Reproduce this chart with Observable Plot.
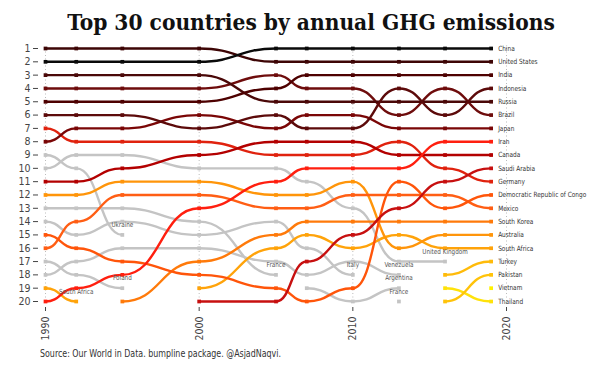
<!DOCTYPE html>
<html><head><meta charset="utf-8">
<script src="https://cdn.jsdelivr.net/npm/d3@7"></script>
<script src="https://cdn.jsdelivr.net/npm/@observablehq/plot@0.6"></script>
<style>
body{margin:0;background:#fff;width:600px;height:375px;overflow:hidden}
#title{font-family:"DejaVu Serif Condensed","Liberation Serif",serif;font-weight:bold;font-size:22.5px;text-align:center;height:40px;line-height:44px;color:#111;padding-left:22px;white-space:nowrap}
#cap{font-family:"DejaVu Sans Condensed",sans-serif;font-size:11px;color:#333;margin-left:40px;margin-top:2px;transform:scaleX(0.8);transform-origin:0 0;white-space:nowrap}
</style></head><body>
<div id="title">Top 30 countries by annual GHG emissions</div>
<div id="chart"></div>
<div id="cap">Source: Our World in Data. bumpline package. @AsjadNaqvi.</div>
<script>
const years = [1990,1992,1995,2000,2005,2007,2010,2013,2016,2019];
const r1990 = ["United States","China","Russia","Brazil","India","Indonesia","Germany","Japan","Ukraine","United Kingdom","Canada","Australia","France","Italy","Democratic Republic of Congo","Mexico","Poland","Venezuela","South Africa","Iran"];
const r1992 = ["United States","China","Russia","Brazil","India","Indonesia","Japan","Germany","United Kingdom","Ukraine","Canada","Australia","France","Mexico","Italy","Democratic Republic of Congo","Venezuela","Poland","Iran","South Africa"];
const r1995 = ["United States","China","Russia","Brazil","India","Indonesia","Japan","Germany","United Kingdom","Canada","Australia","Mexico","France","Italy","Ukraine","Venezuela","Democratic Republic of Congo","Iran","Poland","South Korea"];
const r2000 = ["United States","China","Russia","Brazil","India","Japan","Indonesia","Germany","Canada","United Kingdom","Australia","Mexico","Iran","France","Italy","Venezuela","South Korea","Democratic Republic of Congo","South Africa","Saudi Arabia"];
const r2005 = ["China","United States","Brazil","India","Russia","Indonesia","Japan","Canada","Germany","United Kingdom","Iran","Australia","Mexico","Italy","South Korea","South Africa","Venezuela","France","Democratic Republic of Congo","Saudi Arabia"];
const r2007 = ["China","United States","India","Brazil","Russia","Japan","Indonesia","Canada","Germany","Iran","United Kingdom","Australia","Mexico","South Korea","South Africa","Italy","Saudi Arabia","Venezuela","Argentina","Democratic Republic of Congo"];
const r2010 = ["China","United States","India","Brazil","Russia","Japan","Indonesia","Canada","Germany","Iran","Australia","Mexico","United Kingdom","South Korea","Saudi Arabia","South Africa","Venezuela","Italy","Democratic Republic of Congo","Argentina"];
const r2013 = ["China","United States","India","Indonesia","Russia","Brazil","Japan","Germany","Canada","Iran","Democratic Republic of Congo","Mexico","Saudi Arabia","South Korea","South Africa","Australia","United Kingdom","Venezuela","Argentina","France"];
const r2016 = ["China","United States","India","Brazil","Russia","Indonesia","Japan","Iran","Canada","Germany","Saudi Arabia","Mexico","Democratic Republic of Congo","South Korea","Australia","South Africa","United Kingdom","Turkey","Thailand","Pakistan"];
const r2019 = ["China","United States","India","Indonesia","Russia","Brazil","Japan","Iran","Canada","Saudi Arabia","Germany","Democratic Republic of Congo","Mexico","South Korea","Australia","South Africa","Turkey","Pakistan","Vietnam","Thailand"];
const rankings = [r1990,r1992,r1995,r2000,r2005,r2007,r2010,r2013,r2016,r2019];
const palette = ["#0a0a0a","#3d0505","#4d0000","#5c0a0a","#4a0808","#6e0c0c","#7a0606","#ff1f0f","#b30000","#c71010","#e0220e","#ff550a","#ff5e14","#ff7a0a","#ff950a","#ffa30a","#ffbb0a","#ffc30a","#fff200","#ffe20a"];
const greyColor = "#c4c4c4";
const font = "'DejaVu Sans Condensed',sans-serif";

const colorOf = c => { const i = r2019.indexOf(c); return i >= 0 ? palette[i] : greyColor; };
const countries = Array.from(new Set(rankings.flat()));
const rows = [];
for (const c of countries) {
  years.forEach((y, i) => {
    const r = rankings[i].indexOf(c);
    rows.push({country: c, year: y, rank: r >= 0 ? r + 1 : NaN, color: colorOf(c)});
  });
}
const order = c => { const i = r2019.indexOf(c); return i < 0 ? -100 : -i; };
rows.sort((a, b) => order(a.country) - order(b.country) || a.year - b.year);
const pts = rows.filter(d => !isNaN(d.rank));
const ends = [];
for (const c of countries) {
  const s = rows.filter(d => d.country === c);
  s.forEach((d, i) => {
    if (!isNaN(d.rank) && d.year !== 2019 && (i === s.length - 1 || isNaN(s[i + 1].rank))) ends.push(d);
  });
}
const last = pts.filter(d => d.year === 2019);

const chart = Plot.plot({
  width: 600, height: 305,
  marginLeft: 45, marginRight: 94, marginTop: 8, marginBottom: 44,
  x: {domain: [1990, 2020], axis: null, label: null},
  y: {domain: [1, 20], reverse: true, axis: null, label: null},
  color: {type: "identity"},
  style: {fontFamily: font, fontSize: "10px", color: "#444", background: "#fff", overflow: "visible"},
  marks: [
    Plot.ruleX([1990, 2000, 2010, 2020], {stroke: "#bbb", strokeDasharray: "1,2.5", strokeWidth: 1}),
    Plot.axisY({ticks: d3.range(1, 21), tickSize: 5, dx: -7, tickPadding: 3, fontSize: 10.5, fill: "#444", label: null}),
    Plot.axisX({ticks: [1990, 2000, 2010, 2020], tickFormat: d => String(d), tickRotate: -90, tickSize: 4, dy: 6, fontSize: 10.5, fill: "#444", label: null}),
    Plot.line(rows, {x: "year", y: "rank", z: "country", stroke: "color", strokeWidth: 2.4, curve: "bump-x"}),
    Plot.dot(pts, {x: "year", y: "rank", fill: "color", symbol: "square", r: 2.1}),
    Plot.text(last, {x: "year", y: "rank", text: "country", dx: 7, textAnchor: "start", fontSize: 7.2, fill: "#333", className: "lbl"}),
    Plot.text(ends, {x: "year", y: "rank", text: "country", dy: -10, fontSize: 7, fill: "#555", className: "lbl"})
  ]
});
document.getElementById("chart").appendChild(chart);
// condense label glyphs to mimic the narrow font of the original
chart.querySelectorAll(".lbl text").forEach(t => {
  const w = t.getComputedTextLength();
  if (w > 0) { t.setAttribute("textLength", (w * 0.9).toFixed(1)); t.setAttribute("lengthAdjust", "spacingAndGlyphs"); }
});
</script>
</body></html>
